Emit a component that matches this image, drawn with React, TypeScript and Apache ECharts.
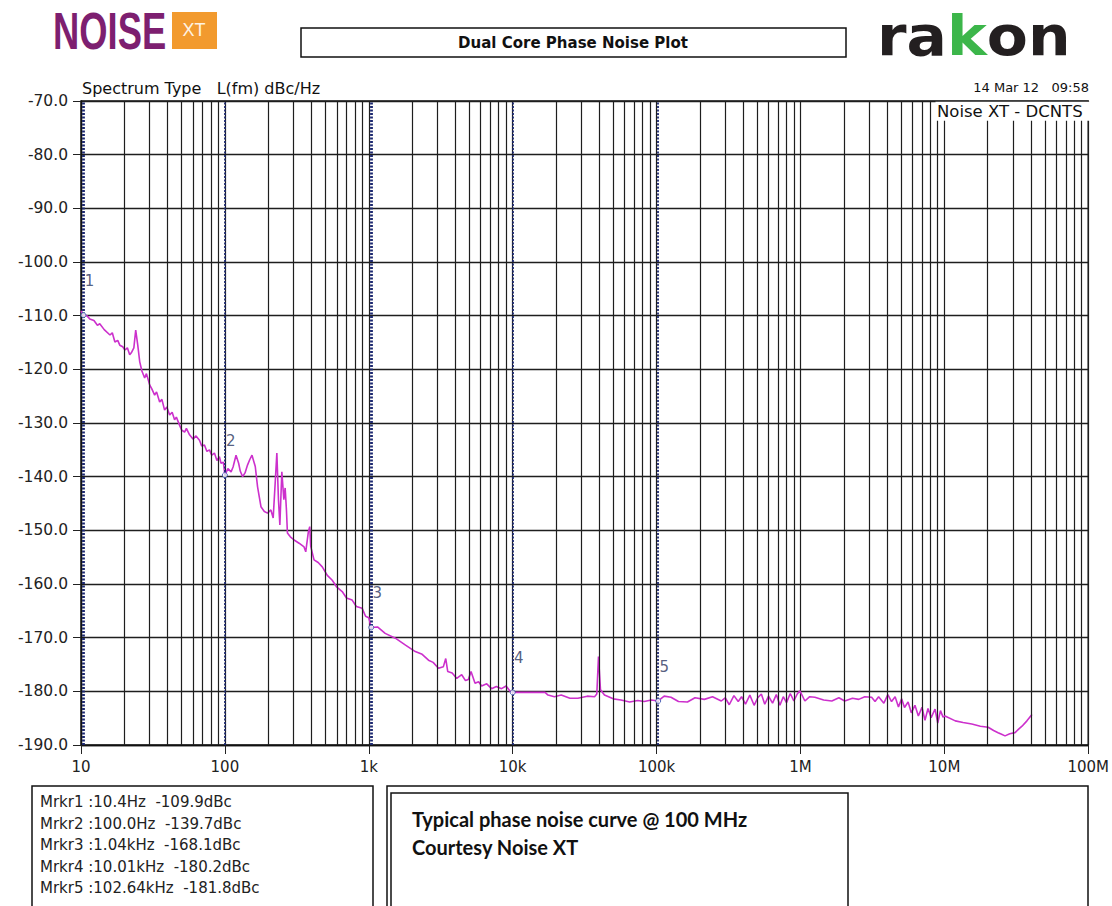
import React, { useEffect, useRef } from 'react';
import * as echarts from 'echarts';

// Phase noise trace: offset frequency (Hz) and level (dBc/Hz)
const freqHz = [
  10, 10.4, 11, 11.5, 12.3, 13, 13.5, 14.5, 15.9, 16.5, 17.2, 18, 18.6, 19.5, 20.2, 21, 21.8, 22.5, 23.3, 24.0,
  24.8, 25.6, 26.5, 27.7, 28.5, 30.0, 31, 32.5, 33.5, 35.2, 36.5, 38.1, 39.5, 41.3, 43, 44.7, 46, 48.4, 50, 52.5,
  54, 56.8, 60, 63, 66.6, 69, 72.1, 75, 78.1, 81, 84.6, 88, 91.6, 94, 97.6, 100, 105, 110.4, 114, 119.5,
  124.6, 128, 132.8, 138, 143.8, 149, 154.3, 162.6, 168.7, 178.1, 188, 197.8, 208.8, 216.6, 223.6, 229.7, 235.7, 241, 248.8, 256.9,
  262.3, 267.8, 272, 285, 302.7, 327.8, 354.9, 364.7, 380.2, 388.8, 395, 416.4, 445, 475.2, 515, 557.2, 600, 653.5, 700, 766.3,
  820, 898.5, 950, 1000, 1040, 1150, 1300, 1530, 1800, 2105, 2350, 2601, 2800, 3051, 3300, 3427, 3537, 3800, 4085, 4424,
  4700, 4920, 5137, 5475, 5800, 6084, 6600, 7135, 7700, 8366, 9000, 9600, 10010, 16790, 17610, 19500, 21760, 25000, 28400, 33000,
  37070, 38440, 39490, 40770, 43450, 50000, 56610, 65000, 74000, 82170, 92000, 102640, 113000, 126000, 142000, 163900, 185000, 214900, 245000, 281800,
  300000, 320000, 345000, 369400, 390000, 415000, 445000, 476600, 505000, 535000, 565000, 600000, 640000, 680000, 720000, 760000, 800000, 850000, 900000, 950000,
  992000, 1074000, 1160000, 1260000, 1450000, 1652000, 1850000, 2032000, 2300000, 2540000, 2800000, 3124000, 3300000, 3494000, 3800000, 4050000, 4298000, 4550000, 4800000, 5050000,
  5287000, 5600000, 5900000, 6250000, 6600000, 7000000, 7340000, 7700000, 8100000, 8620000, 9000000, 9400000, 9800000, 10110000, 11920000, 13500000, 15520000, 17800000, 20160000, 22000000,
  23640000, 25000000, 26430000, 28500000, 30990000, 33000000, 34660000, 37500000, 40640000
];
const levelDbc = [
  -109.1, -109.9, -110.0, -110.6, -110.9, -111.8, -111.5, -112.6, -113.6, -113.2, -114.9, -114.6, -115.5, -115.8, -116.4, -116.0, -117.3, -116.8, -116.0, -112.7,
  -115.5, -118.6, -120.3, -121.6, -120.8, -122.9, -123.6, -124.8, -124.2, -126.1, -125.6, -127.6, -127.0, -128.5, -128.0, -129.4, -128.9, -130.4, -131.3, -131.7,
  -131.0, -132.2, -133.0, -132.4, -133.2, -134.3, -134.1, -135.3, -135.0, -136.0, -135.6, -137.0, -136.3, -137.5, -137.3, -139.7, -138.5, -139.1, -138.2, -136.0,
  -137.5, -139.0, -140.0, -139.3, -137.8, -136.8, -136.0, -138.1, -141.9, -145.6, -146.5, -146.8, -146.2, -147.7, -141.2, -135.6, -144.3, -149.0, -139.1, -144.3,
  -142.1, -146.2, -150.5, -151.2, -151.8, -152.4, -153.1, -154.0, -150.3, -149.3, -153.0, -155.5, -156.0, -156.8, -158.4, -159.3, -160.6, -161.4, -162.6, -163.0,
  -164.2, -164.5, -166.0, -166.3, -168.1, -168.0, -169.2, -170.1, -171.4, -172.6, -173.1, -174.2, -174.6, -175.7, -175.4, -173.9, -176.3, -176.6, -177.6, -176.9,
  -178.0, -177.8, -176.3, -178.5, -178.2, -179.0, -178.6, -179.5, -179.1, -179.5, -179.0, -180.0, -180.2, -180.2, -180.7, -181.0, -180.7, -181.3, -181.3, -180.9,
  -181.0, -180.5, -173.5, -179.7, -180.7, -181.4, -181.6, -182.0, -181.7, -181.9, -181.6, -181.8, -180.9, -181.1, -181.9, -182.0, -181.2, -181.5, -181.0, -181.8,
  -181.2, -182.5, -180.8, -181.9, -181.0, -182.4, -180.7, -182.6, -181.2, -180.5, -182.4, -180.9, -182.2, -180.6, -182.6, -181.0, -182.1, -180.4, -181.8, -180.5,
  -179.9, -181.8, -181.0, -181.1, -181.6, -181.8, -181.2, -181.8, -181.3, -181.5, -181.0, -181.1, -181.9, -181.0, -182.2, -180.6, -181.9, -181.0, -182.9, -181.4,
  -183.0, -182.0, -184.0, -182.6, -184.6, -183.0, -185.4, -183.2, -184.9, -183.3, -185.9, -183.6, -184.8, -184.6, -185.5, -185.8, -186.1, -186.5, -186.7, -187.3,
  -187.7, -188.0, -188.3, -187.9, -187.7, -187.0, -186.5, -185.5, -184.3
];

const markerFreq = [10.4, 100, 1040, 10010, 102640];
const markerLevel = [-109.9, -139.7, -168.1, -180.2, -181.8];
const markerLines = [
  'Mrkr1 :10.4Hz  -109.9dBc',
  'Mrkr2 :100.0Hz  -139.7dBc',
  'Mrkr3 :1.04kHz  -168.1dBc',
  'Mrkr4 :10.01kHz  -180.2dBc',
  'Mrkr5 :102.64kHz  -181.8dBc'
];
const xTickLabels = ['10', '100', '1k', '10k', '100k', '1M', '10M', '100M'];
const decadeStarts = [10, 100, 1000, 10000, 100000, 1000000, 10000000];
const minorSteps = [2, 3, 4, 5, 6, 7, 8, 9];

const FONT = '"DejaVu Sans", Verdana, sans-serif';
const GRID_COLOR = '#1e1e1e';

export default function App() {
  const ref = useRef<HTMLDivElement>(null);

  useEffect(() => {
    document.body.style.margin = '0';
    if (!ref.current) return;
    const chart = echarts.init(ref.current, null, { renderer: 'svg' });

    const curve = freqHz.map((f, i) => [f, levelDbc[i]]);
    const minorGrid: any[] = [];
    decadeStarts.forEach((d) => minorSteps.forEach((m) => minorGrid.push({ xAxis: d * m })));
    const markerLineData = markerFreq.map((f, i) => ({
      xAxis: f,
      lineStyle: {
        color: '#1c2870',
        width: i === 0 || i === 2 ? 2.8 : 1.8,
        type: [2, 1.5]
      }
    }));

    const option: any = {
      animation: false,
      backgroundColor: '#ffffff',
      grid: {
        left: 81,
        right: 20,
        top: 101,
        bottom: 161,
        show: true,
        borderColor: '#111',
        borderWidth: 1.4,
        backgroundColor: '#fff'
      },
      xAxis: {
        type: 'log',
        logBase: 10,
        min: 10,
        max: 100000000,
        axisLine: { show: true, lineStyle: { color: '#111', width: 1.4 } },
        axisTick: { show: true, length: 9, lineStyle: { color: '#222' } },
        axisLabel: {
          margin: 14,
          fontFamily: FONT,
          fontSize: 15,
          color: '#222',
          formatter: (v: number) => xTickLabels[Math.round(Math.log10(v)) - 1] ?? ''
        },
        splitLine: { show: true, lineStyle: { color: GRID_COLOR, width: 1.2 } }
      },
      yAxis: {
        type: 'value',
        min: -190,
        max: -70,
        interval: 10,
        axisLine: { show: true, lineStyle: { color: '#111', width: 1.4 } },
        axisTick: { show: true, length: 8, lineStyle: { color: '#222' } },
        axisLabel: {
          margin: 13,
          fontFamily: FONT,
          fontSize: 15.5,
          color: '#222',
          formatter: (v: number) => v.toFixed(1)
        },
        splitLine: { show: true, lineStyle: { color: GRID_COLOR, width: 1.3 } }
      },
      series: [
        {
          name: 'grid',
          type: 'line',
          data: [[10, -190]],
          showSymbol: false,
          lineStyle: { opacity: 0 },
          z: 1,
          silent: true,
          markLine: {
            silent: true,
            symbol: ['none', 'none'],
            label: { show: false },
            lineStyle: { color: GRID_COLOR, width: 1.2, type: 'solid' },
            data: minorGrid
          }
        },
        {
          name: 'markerLines',
          type: 'line',
          data: [[10, -190]],
          showSymbol: false,
          lineStyle: { opacity: 0 },
          z: 2,
          silent: true,
          markLine: {
            silent: true,
            symbol: ['none', 'none'],
            label: { show: false },
            data: markerLineData
          }
        },
        {
          name: 'L(fm)',
          type: 'line',
          data: curve,
          showSymbol: false,
          z: 4,
          lineStyle: { color: '#cc30cc', width: 1.6 }
        },
        {
          name: 'markers',
          type: 'scatter',
          z: 5,
          data: markerFreq.map((f, i) => [f, markerLevel[i]]),
          symbol: 'circle',
          symbolSize: 5,
          itemStyle: { color: '#ffffff', borderColor: '#3048a8', borderWidth: 1 },
          label: {
            show: true,
            position: 'inside',
            offset: [6, -34],
            formatter: (p: any) => String(p.dataIndex + 1),
            fontFamily: FONT,
            fontSize: 15,
            color: '#2a3560'
          }
        }
      ],
      graphic: [
        // NOISE XT logo
        {
          type: 'text',
          x: 53,
          y: 31,
          scaleX: 0.7,
          style: {
            text: 'NOISE',
            font: 'bold 52px "Liberation Sans", Arial, sans-serif',
            fill: '#7d1f70',
            verticalAlign: 'middle'
          }
        },
        { type: 'rect', shape: { x: 172, y: 12, width: 45, height: 37 }, style: { fill: '#f29a2e' } },
        {
          type: 'text',
          x: 194,
          y: 30,
          style: {
            text: 'XT',
            font: '18px "Liberation Sans", Arial, sans-serif',
            fill: '#fff3e2',
            align: 'center',
            verticalAlign: 'middle'
          }
        },
        // rakon logo
        {
          type: 'text',
          x: 877,
          y: 36,
          scaleX: 1.07,
          style: {
            text: '{d|ra}{g|k}{d|on}',
            verticalAlign: 'middle',
            rich: {
              d: { fill: '#231f20', fontSize: 56, fontWeight: 'bold', fontFamily: FONT },
              g: { fill: '#3cb64a', fontSize: 56, fontWeight: 'bold', fontFamily: FONT }
            }
          }
        },
        // Title box
        {
          type: 'rect',
          shape: { x: 301, y: 28, width: 545, height: 29 },
          style: { fill: '#fff', stroke: '#111', lineWidth: 1.5 }
        },
        {
          type: 'text',
          x: 573,
          y: 43,
          style: {
            text: 'Dual Core Phase Noise Plot',
            font: 'bold 15px ' + FONT,
            fill: '#111',
            align: 'center',
            verticalAlign: 'middle'
          }
        },
        {
          type: 'text',
          x: 82,
          y: 88,
          style: {
            text: 'Spectrum Type\u00a0\u00a0 L(fm) dBc/Hz',
            font: '16px ' + FONT,
            fill: '#111',
            verticalAlign: 'middle'
          }
        },
        {
          type: 'text',
          x: 1089,
          y: 87,
          style: {
            text: '14 Mar 12\u00a0\u00a0 09:58',
            font: '13px ' + FONT,
            fill: '#111',
            align: 'right',
            verticalAlign: 'middle'
          }
        },
        // Noise XT - DCNTS label box
        {
          type: 'rect',
          z: 100,
          shape: { x: 935.5, y: 101.8, width: 155.5, height: 19 },
          style: { fill: '#fff' }
        },
        {
          type: 'text',
          z: 101,
          x: 937,
          y: 111,
          style: {
            text: 'Noise XT - DCNTS',
            font: '16.5px ' + FONT,
            fill: '#111',
            verticalAlign: 'middle'
          }
        },
        // Marker readout box
        {
          type: 'rect',
          shape: { x: 32, y: 786, width: 341, height: 140 },
          style: { fill: '#fff', stroke: '#111', lineWidth: 1.5 }
        },
        ...markerLines.map((t, i) => ({
          type: 'text',
          x: 40,
          y: 802 + i * 21.6,
          style: { text: t, font: '15px ' + FONT, fill: '#222', verticalAlign: 'middle' }
        })),
        // Caption boxes
        {
          type: 'rect',
          shape: { x: 387, y: 786, width: 701, height: 140 },
          style: { fill: '#fff', stroke: '#111', lineWidth: 1.5 }
        },
        {
          type: 'rect',
          shape: { x: 391, y: 793, width: 457, height: 140 },
          style: { fill: '#fff', stroke: '#111', lineWidth: 1.5 }
        },
        {
          type: 'text',
          x: 412,
          y: 819,
          style: {
            text: 'Typical phase noise curve @ 100 MHz',
            font: 'bold 20px Lato, "Open Sans", sans-serif',
            fill: '#111',
            verticalAlign: 'middle'
          }
        },
        {
          type: 'text',
          x: 412,
          y: 847,
          style: {
            text: 'Courtesy Noise XT',
            font: 'bold 20px Lato, "Open Sans", sans-serif',
            fill: '#111',
            verticalAlign: 'middle'
          }
        }
      ]
    };

    chart.setOption(option);
    return () => chart.dispose();
  }, []);

  return <div ref={ref} style={{ width: 1112, height: 906 }} />;
}
